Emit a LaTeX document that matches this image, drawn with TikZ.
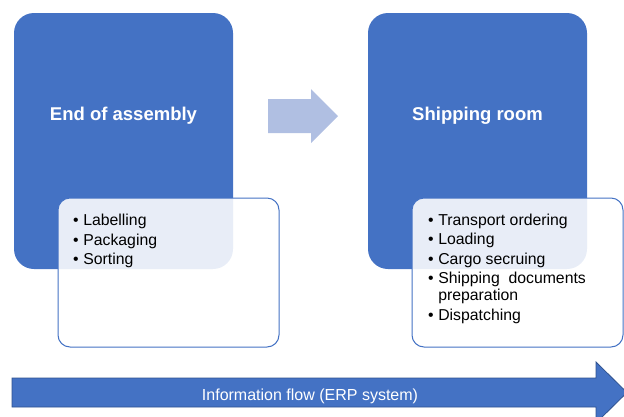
\documentclass[tikz,border=0pt]{standalone}
\usepackage{fontspec}
\setmainfont{Liberation Sans}
\definecolor{mainblue}{HTML}{4472C4}
\definecolor{lightarrow}{HTML}{B0BFE2}
\definecolor{darkedge}{HTML}{2F528F}
\tikzset{
  stagebox/.style={rectangle, rounded corners=20pt, fill=mainblue, draw=none,
    minimum width=219pt, minimum height=256pt, inner sep=0pt},
  listbox/.style={rectangle, rounded corners=12pt, draw=mainblue, line width=1pt,
    fill=white, fill opacity=0.88, minimum height=149pt, inner sep=0pt},
  headtext/.style={text=white, font=\fontsize{18.5}{22}\selectfont\bfseries, anchor=base, inner sep=0pt},
  listtext/.style={text=black, font=\fontsize{15.8}{19.5}\selectfont, anchor=base west, inner sep=0pt, align=left},
  flowtext/.style={text=white, font=\fontsize{16}{19}\selectfont, anchor=base, inner sep=0pt}
}
\newcommand{\blt}{\textbullet}
\begin{document}
\begin{tikzpicture}[x=1pt,y=-1pt]
\useasboundingbox (0,0) rectangle (624,416);
% stage boxes
\node[stagebox] (endasm) at (123.5,141) {};
\node[stagebox] (shiproom) at (477.5,141) {};
\node[headtext] (endasmtext) at (123.5,120.5) {End of assembly};
\node[headtext] (shiptext) at (477.5,120) {Shipping room};
% middle arrow
\fill[lightarrow] (268,99) -- (311,99) -- (311,89) -- (338,116) -- (311,143) -- (311,133) -- (268,133) -- cycle;
% list boxes
\node[listbox, minimum width=221pt] (leftlist) at (168.5,272.5) {};
\node[listbox, minimum width=211pt] (rightlist) at (517.5,272.5) {};
\node[listtext] (leftitems) at (73,225.5) {\begin{tabular}[t]{@{}l@{\hspace{4.6pt}}l@{}}
\blt & Labelling\\
\blt & Packaging\\
\blt & Sorting
\end{tabular}};
\node[listtext] (rightitems) at (428,225.3) {\begin{tabular}[t]{@{}l@{\hspace{4.6pt}}l@{}}
\blt & Transport ordering\\
\blt & Loading\\
\blt & Cargo secruing\\
\blt & Shipping\ \ documents\\[-2.5pt]
 & preparation\\
\blt & Dispatching
\end{tabular}};
% information flow arrow
\filldraw[fill=mainblue, draw=darkedge, line width=0.8pt] (12,378) -- (596,378) -- (596,362) -- (627,392.5) -- (596,423) -- (596,407) -- (12,407) -- cycle;
\node[flowtext] (flow) at (310,400) {Information flow (ERP system)};
\end{tikzpicture}
\end{document}
